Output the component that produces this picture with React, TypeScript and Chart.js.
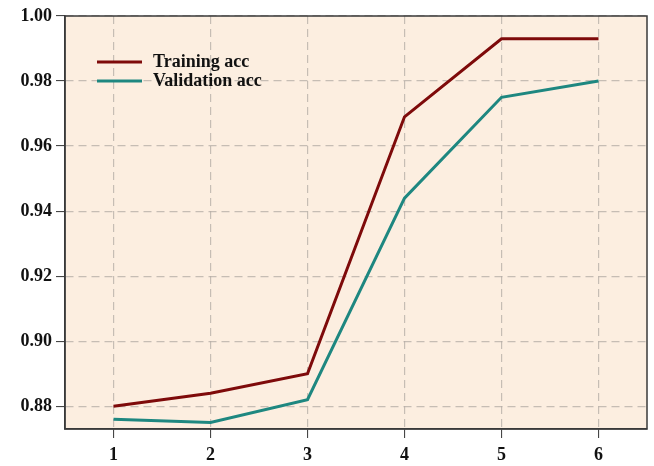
import React, { useEffect, useRef } from "react";
import { Chart, registerables } from "chart.js";

Chart.register(...registerables);

const epochs = ["1", "2", "3", "4", "5", "6"];
const trainAcc = [0.88, 0.884, 0.89, 0.969, 0.993, 0.993];
const valAcc = [0.876, 0.875, 0.882, 0.944, 0.975, 0.98];
const yTicks = [0.88, 0.9, 0.92, 0.94, 0.96, 0.98, 1.0];
const seriesLabels = ["Training acc", "Validation acc"];

const FONT = "'Liberation Serif', 'Times New Roman', serif";

const frameAndLegend = {
  id: "frameAndLegend",
  beforeDraw(chart: any) {
    const { ctx, chartArea: a } = chart;
    ctx.save();
    ctx.fillStyle = "#FCEEE0";
    ctx.fillRect(a.left, a.top, a.right - a.left, a.bottom - a.top);
    ctx.restore();
  },
  afterDraw(chart: any) {
    const { ctx, chartArea: a } = chart;
    ctx.save();
    ctx.strokeStyle = "#3a3a3a";
    ctx.lineWidth = 1.5;
    ctx.setLineDash([]);
    ctx.strokeRect(a.left, a.top, a.right - a.left, a.bottom - a.top);
    chart.data.datasets.forEach((ds: any, i: number) => {
      const y = a.top + 46 + i * 19;
      ctx.strokeStyle = ds.borderColor;
      ctx.lineWidth = 3;
      ctx.beginPath();
      ctx.moveTo(a.left + 32, y);
      ctx.lineTo(a.left + 77, y);
      ctx.stroke();
      ctx.fillStyle = "#111";
      ctx.font = `bold 18px ${FONT}`;
      ctx.textBaseline = "middle";
      ctx.textAlign = "left";
      ctx.fillText(ds.label, a.left + 88, y);
    });
    ctx.restore();
  },
};

export default function App() {
  const ref = useRef<HTMLCanvasElement>(null);
  useEffect(() => {
    document.body.style.margin = "0";
    const gridCommon = {
      color: "rgba(180,172,165,0.75)",
      lineWidth: 1.2,
      tickBorderDash: [9, 0],
      tickColor: "#333",
      tickLength: 9,
      tickWidth: 1,
      drawOnChartArea: true,
    };
    const borderCommon = { display: true, color: "#3a3a3a", width: 1.5, dash: [8, 5] };
    const chart = new Chart(ref.current!, {
      type: "line",
      data: {
        labels: epochs,
        datasets: [
          {
            label: seriesLabels[0],
            data: trainAcc,
            borderColor: "#7E0A0A",
            borderWidth: 3,
            pointRadius: 0,
            tension: 0,
            fill: false,
          },
          {
            label: seriesLabels[1],
            data: valAcc,
            borderColor: "#1E8780",
            borderWidth: 3,
            pointRadius: 0,
            tension: 0,
            fill: false,
          },
        ],
      },
      options: {
        responsive: false,
        animation: false,
        layout: { padding: { top: 16, right: 7, left: 0, bottom: 0 } },
        plugins: { legend: { display: false }, tooltip: { enabled: false } },
        scales: {
          x: {
            type: "category",
            offset: true,
            grid: { ...gridCommon, offset: false },
            border: borderCommon,
            ticks: {
              color: "#111",
              padding: 7,
              font: { family: FONT, size: 18, weight: "bold" },
            },
            afterFit: (s: any) => {
              s.height = 37;
            },
          },
          y: {
            min: 0.873,
            max: 1.0,
            grid: gridCommon,
            border: borderCommon,
            afterBuildTicks: (s: any) => {
              s.ticks = yTicks.map((v) => ({ value: v }));
            },
            ticks: {
              color: "#111",
              padding: 4,
              font: { family: FONT, size: 18, weight: "bold" },
              callback: (v: any) => Number(v).toFixed(2),
            },
            afterFit: (s: any) => {
              s.width = 65;
            },
          },
        },
      },
      plugins: [frameAndLegend],
    });
    return () => chart.destroy();
  }, []);
  return <canvas ref={ref} width={654} height={466} />;
}
